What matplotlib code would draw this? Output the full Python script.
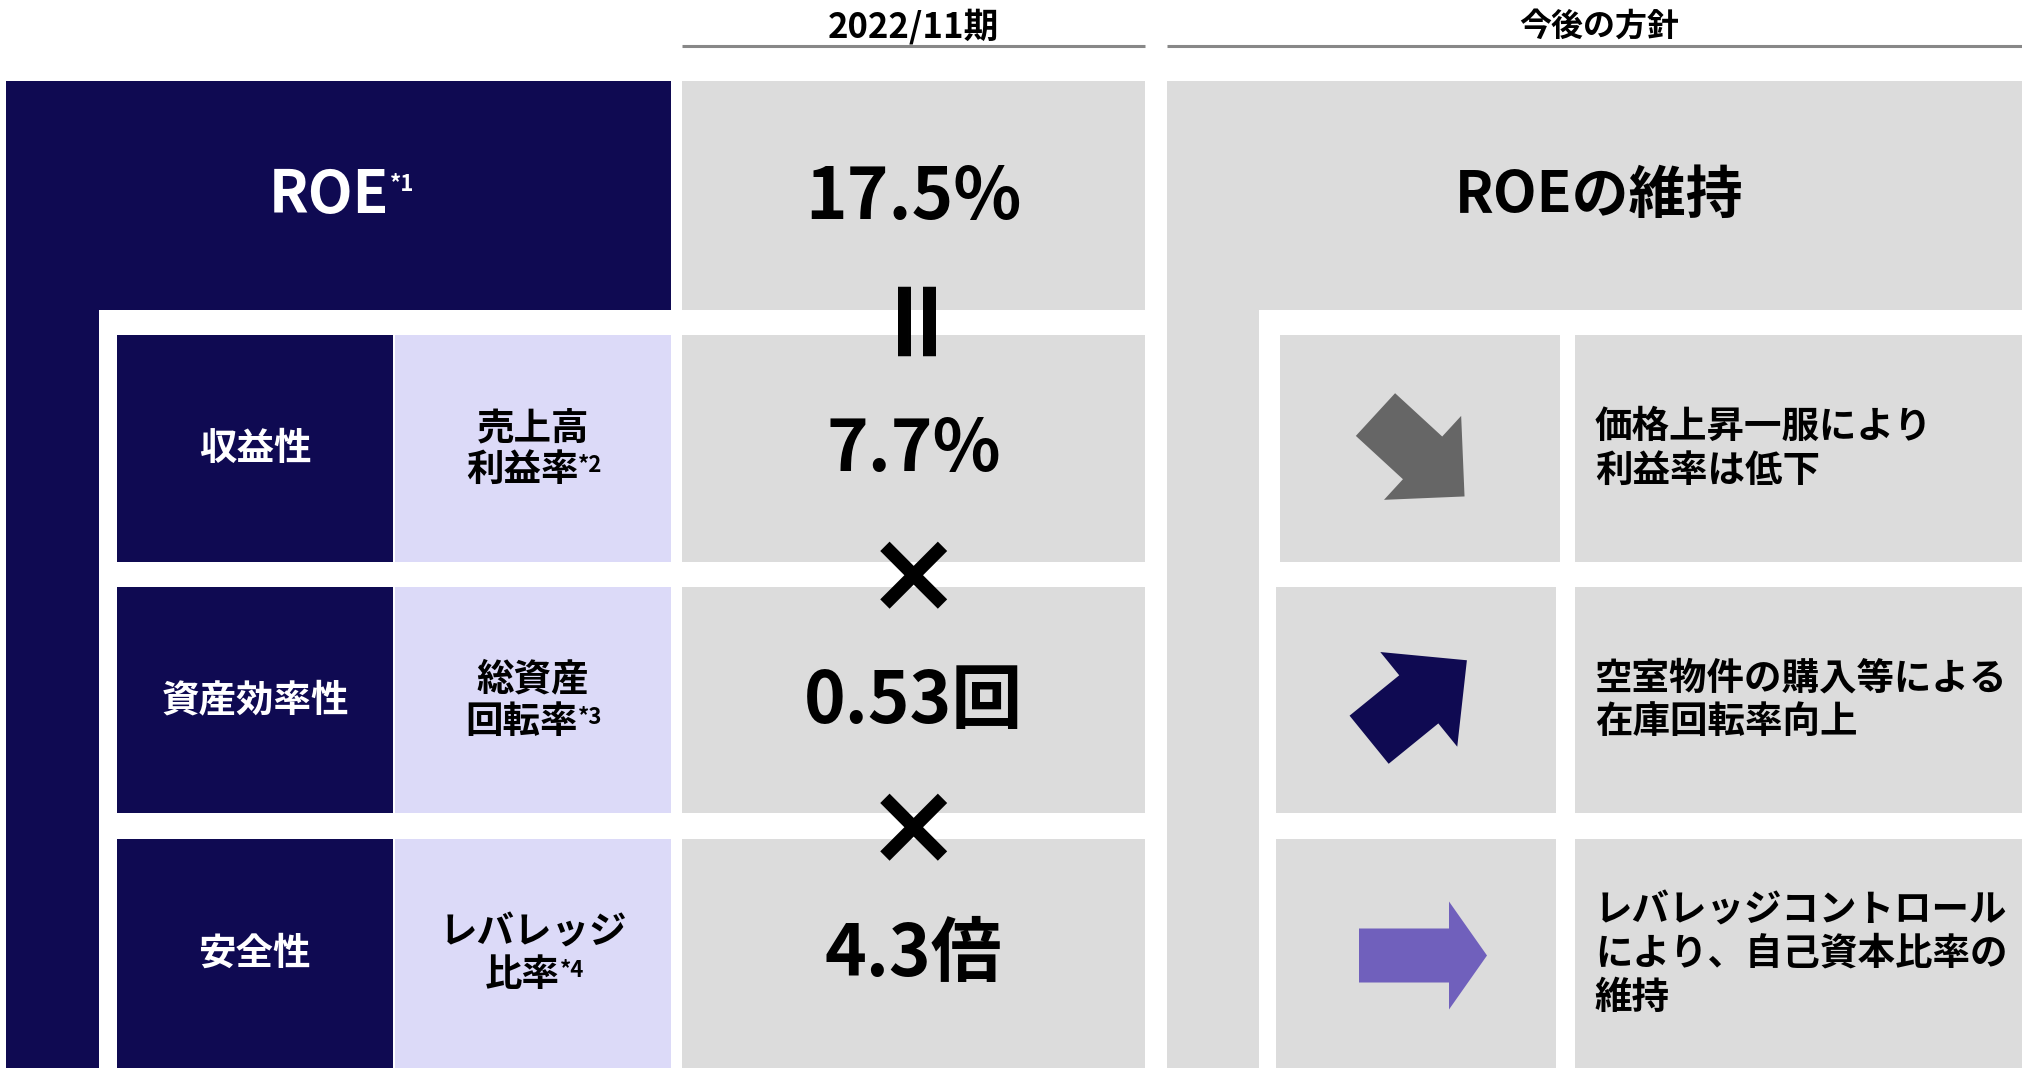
import matplotlib
matplotlib.use("Agg")
import matplotlib.pyplot as plt
from matplotlib.patches import Rectangle, Polygon
import numpy as np

plt.rcParams['font.family'] = ['Noto Sans CJK JP', 'DejaVu Sans']

# ===== content =====
header_labels = ["2022/11期", "今後の方針"]
roe_label = "ROE"
roe_note = "*1"
roe_value = "17.5%"
roe_policy = "ROEの維持"

factor_groups = ["収益性", "資産効率性", "安全性"]
factor_names = [["売上高", "利益率"], ["総資産", "回転率"], ["レバレッジ", "比率"]]
factor_notes = ["*2", "*3", "*4"]
factor_values = ["7.7%", "0.53回", "4.3倍"]
policy_texts = [["価格上昇一服により", "利益率は低下"],
                ["空室物件の購入等による", "在庫回転率向上"],
                ["レバレッジコントロール", "により、自己資本比率の", "維持"]]
operators = ["=", "×", "×"]

# trend arrow direction in degrees (screen coords, positive = pointing down)
trend_angles = [42.6, -39.1, 0.0]
# shaft length, head length, shaft half width, head half width (px)
trend_shapes = [(64, 57, 29, 57), (64, 62, 31, 61), (90, 38, 27, 54)]

# ===== style =====
navy = "#0F0A52"
lavender = "#DCDAF8"
gray = "#DCDCDC"
arrow_colors = ["#666666", navy, "#7060BC"]

W, H = 2022, 1068
fig = plt.figure(figsize=(W / 100, H / 100), dpi=100)
ax = fig.add_axes([0, 0, 1, 1])
ax.set_xlim(0, W)
ax.set_ylim(H, 0)
ax.axis("off")
renderer = fig.canvas.get_renderer()


def box(x0, x1, y0, y1, color):
    ax.add_patch(Rectangle((x0, y0), x1 - x0, y1 - y0, facecolor=color,
                           edgecolor="none", zorder=1))


def right_edge(t):
    bb = t.get_window_extent(renderer=renderer)
    return ax.transData.inverted().transform([[bb.x1, bb.y0]])[0][0]


def arrow(cx, cy, angle, shape, color):
    shaft, head, sw, hw = shape
    half = (shaft + head) / 2
    x0 = -half
    pts = np.array([(x0, -sw), (x0 + shaft, -sw), (x0 + shaft, -hw), (half, 0),
                    (x0 + shaft, hw), (x0 + shaft, sw), (x0, sw)])
    a = np.radians(angle)
    rot = np.array([[np.cos(a), -np.sin(a)], [np.sin(a), np.cos(a)]])
    pts = pts @ rot.T + [cx, cy]
    ax.add_patch(Polygon(pts, closed=True, facecolor=color, edgecolor="none", zorder=2))


# column / row layout (px)
col_left = (6, 99, 671)           # outer navy strip, top block right edge
col_group = (117, 393)
col_name = (395, 671)
col_value = (682, 1145)
col_right = (1167, 1259)
arrow_cols = [(1280, 1560), (1276, 1556), (1276, 1556)]
col_policy = 1575
top_row = (81, 310)
rows = [(335, 562), (587, 813), (839, 1068)]
arrow_offsets = [(0, 7), (2, 0), (7, 2)]

# headers
value_cx = sum(col_value) / 2
right_cx = 1599
for cx, x0, x1, lab, fs in [(value_cx, col_value[0], col_value[1], header_labels[0], 25),
                            (right_cx, col_right[0], W, header_labels[1], 23)]:
    ax.text(cx, 27, lab, ha="center", va="center", fontsize=fs, fontweight="bold", color="black")
    ax.plot([x0, x1], [46, 46], color="#888888", lw=2.2, solid_capstyle="butt")

# top ROE block
box(col_left[0], col_left[2], top_row[0], top_row[1], navy)
box(col_left[0], col_left[1], top_row[0], H, navy)
box(col_value[0], col_value[1], top_row[0], top_row[1], gray)
box(col_right[0], W, top_row[0], top_row[1], gray)
box(col_right[0], col_right[1], top_row[0], H, gray)

top_cy = sum(top_row) / 2
roe_cx = (col_left[0] + col_left[2]) / 2
t = ax.text(roe_cx - 10, top_cy, roe_label, ha="center", va="center", fontsize=42,
            fontweight="bold", color="white", zorder=3)
ax.text(right_edge(t) + 1, top_cy - 11, roe_note, ha="left", va="center", fontsize=16,
        fontweight="bold", color="white", zorder=3)
ax.text(value_cx, top_cy + 2, roe_value, ha="center", va="center", fontsize=51,
        fontweight="bold", color="black", zorder=3)
ax.text(right_cx, top_cy, roe_policy, ha="center", va="center", fontsize=41,
        fontweight="bold", color="black", zorder=3)

# factor rows
for i, (y0, y1) in enumerate(rows):
    cy = (y0 + y1) / 2
    box(col_group[0], col_group[1], y0, y1, navy)
    box(col_name[0], col_name[1], y0, y1, lavender)
    box(col_value[0], col_value[1], y0, y1, gray)
    box(arrow_cols[i][0], arrow_cols[i][1], y0, y1, gray)
    box(col_policy, W, y0, y1, gray)

    ax.text(sum(col_group) / 2, cy, factor_groups[i], ha="center", va="center",
            fontsize=27, fontweight="bold", color="white", zorder=3)

    name_cx = sum(col_name) / 2
    ax.text(name_cx, cy - 21, factor_names[i][0], ha="center", va="center",
            fontsize=27, fontweight="bold", color="black", zorder=3)
    t = ax.text(name_cx - 11, cy + 21, factor_names[i][1], ha="center", va="center",
                fontsize=27, fontweight="bold", color="black", zorder=3)
    ax.text(right_edge(t), cy + 17, factor_notes[i], ha="left", va="center",
            fontsize=16, fontweight="bold", color="black", zorder=3)

    ax.text(value_cx, cy + 2, factor_values[i], ha="center", va="center", fontsize=51,
            fontweight="bold", color="black", zorder=3)

    acx = sum(arrow_cols[i]) / 2 + arrow_offsets[i][0]
    arrow(acx, cy + arrow_offsets[i][1], trend_angles[i], trend_shapes[i], arrow_colors[i])

    lines = policy_texts[i]
    step = 43.5
    start = cy - step * (len(lines) - 1) / 2
    for k, line in enumerate(lines):
        ax.text(col_policy + 20, start + k * step, line, ha="left", va="center",
                fontsize=27, fontweight="bold", color="black", zorder=3)

# operators between the value cells
op_y = [310, 580, 832]
ax.text(value_cx - 3, op_y[0], operators[0], ha="center", va="center", rotation=90,
        fontsize=80, fontweight="bold", family="DejaVu Sans", color="black", zorder=4)
for k in (1, 2):
    ax.text(value_cx, op_y[k], operators[k], ha="center", va="center", fontsize=82,
            fontweight="bold", family="DejaVu Sans", color="black", zorder=4)

fig.savefig("out.png", dpi=100)
